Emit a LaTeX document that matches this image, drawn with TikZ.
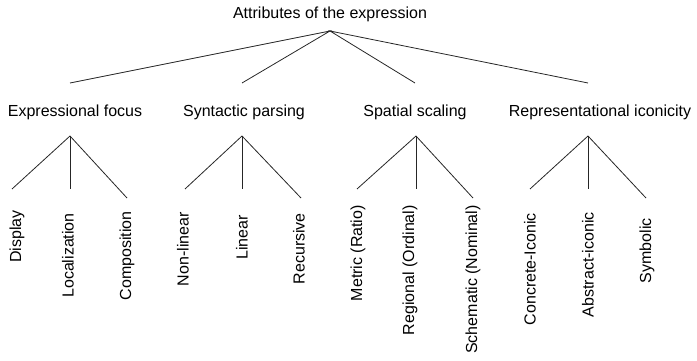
\documentclass[tikz,border=0pt]{standalone}
\usepackage{fontspec}
\setmainfont{Liberation Sans}
\begin{document}
\begin{tikzpicture}[x=1pt,y=-1pt,
  conn/.style={draw=black!85,line width=0.8pt},
  cat/.style={font=\fontsize{16}{19}\selectfont,anchor=base,inner sep=0pt},
  leaf/.style={font=\fontsize{16}{19}\selectfont,rotate=90,anchor=east,inner sep=0pt}]
\useasboundingbox (0,0) rectangle (697,361);
% root
\node[cat] (root) at (330,19) {Attributes of the expression};
\coordinate (r) at (330,31);
% top-level branch ends
\coordinate (e1) at (70,83);
\coordinate (e2) at (242,83);
\coordinate (e3) at (415,83);
\coordinate (e4) at (588,83);
\draw[conn] (e1) -- (r) -- (e2);
\draw[conn] (e3) -- (r) -- (e4);
% categories
\node[cat] (c1) at (75,117) {Expressional focus};
\node[cat] (c2) at (244,117) {Syntactic parsing};
\node[cat] (c3) at (415,117) {Spatial scaling};
\node[cat] (c4) at (600,117) {Representational iconicity};
% sub apexes
\coordinate (a1) at (70,136);
\coordinate (a2) at (242,136);
\coordinate (a3) at (416,136);
\coordinate (a4) at (588,136);
% group 1
\coordinate (a1l) at (12,189);
\coordinate (a1m) at (70,189);
\coordinate (a1r) at (127,198);
\draw[conn] (a1) -- (a1l); \draw[conn] (a1) -- (a1m); \draw[conn] (a1) -- (a1r);
\node[leaf] (l11) at (17,210) {Display};
\node[leaf] (l12) at (68,213) {Localization};
\node[leaf] (l13) at (127,211) {Composition};
% group 2
\coordinate (a2l) at (185,189);
\coordinate (a2m) at (242,189);
\coordinate (a2r) at (301,198);
\draw[conn] (a2) -- (a2l); \draw[conn] (a2) -- (a2m); \draw[conn] (a2) -- (a2r);
\node[leaf] (l21) at (183,212) {Non-linear};
\node[leaf] (l22) at (242,215) {Linear};
\node[leaf] (l23) at (299,213) {Recursive};
% group 3
\coordinate (a3l) at (357,189);
\coordinate (a3m) at (416,189);
\coordinate (a3r) at (473,198);
\draw[conn] (a3) -- (a3l); \draw[conn] (a3) -- (a3m); \draw[conn] (a3) -- (a3r);
\node[leaf] (l31) at (358,205) {Metric (Ratio)};
\node[leaf] (l32) at (410,205) {Regional (Ordinal)};
\node[leaf] (l33) at (473,205) {Schematic (Nominal)};
% group 4
\coordinate (a4l) at (530,189);
\coordinate (a4m) at (588,189);
\coordinate (a4r) at (646,198);
\draw[conn] (a4) -- (a4l); \draw[conn] (a4) -- (a4m); \draw[conn] (a4) -- (a4r);
\node[leaf] (l41) at (530,213) {Concrete-Iconic};
\node[leaf] (l42) at (588,212) {Abstract-iconic};
\node[leaf] (l43) at (647,218) {Symbolic};
\end{tikzpicture}
\end{document}
